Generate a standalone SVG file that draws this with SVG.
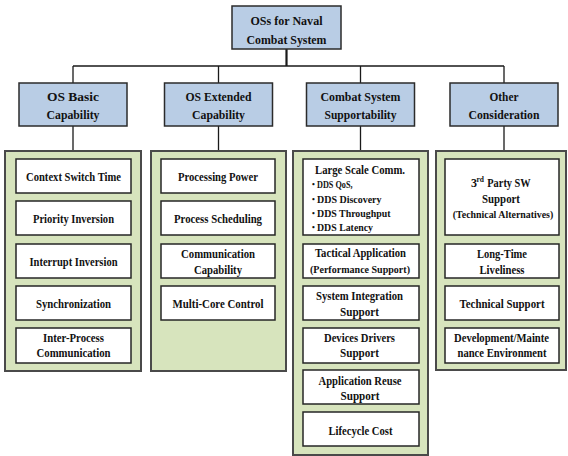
<svg xmlns="http://www.w3.org/2000/svg" width="568" height="456" viewBox="0 0 568 456">
<style>
.hd{fill:#b9cde5;stroke:#2b2b2b;stroke-width:1.5}
.ct{fill:#d7e4bd;stroke:#4a4a4a;stroke-width:2}
.it{fill:#ffffff;stroke:#262626;stroke-width:1.5}
text{font-family:"Liberation Serif","Times New Roman",serif;font-weight:bold;fill:#111111;text-anchor:middle}
.t13{font-size:13px}
.t12{font-size:12px}
.t11{font-size:11px}
.bu{font-size:8px}
.l{text-anchor:start}
.cn{fill:none;stroke:#1a1a1a;stroke-width:1.3}
</style>
<rect width="568" height="456" fill="#ffffff"/>
<g id="connectors">
<path class="cn" d="M286.5 49V66" style="stroke-width:2.2"/>
<path class="cn" d="M73 66H504M73 66V83M218.5 66V83M360.5 66V83M504 66V83"/>
<path class="cn" d="M73 126V151M218.5 126V151M360.5 126V151M504 126V151"/>
</g>
<g id="root">
<rect class="hd" x="232" y="6" width="109" height="43"/>
<text class="t13" x="286.5" y="24.5" textLength="72" lengthAdjust="spacingAndGlyphs">OSs for Naval</text>
<text class="t13" x="286.5" y="43.5" textLength="80" lengthAdjust="spacingAndGlyphs">Combat System</text>
</g>
<g id="os-basic">
<rect class="hd" x="19" y="83" width="108" height="43"/>
<text class="t13" x="73" y="101" textLength="52" lengthAdjust="spacingAndGlyphs">OS Basic</text>
<text class="t13" x="73" y="119" textLength="53" lengthAdjust="spacingAndGlyphs">Capability</text>
</g>
<g id="os-extended">
<rect class="hd" x="164.5" y="83" width="108" height="43"/>
<text class="t13" x="218.5" y="101" textLength="66" lengthAdjust="spacingAndGlyphs">OS Extended</text>
<text class="t13" x="218.5" y="119" textLength="53" lengthAdjust="spacingAndGlyphs">Capability</text>
</g>
<g id="combat-support">
<rect class="hd" x="306.5" y="83" width="108" height="43"/>
<text class="t13" x="360.5" y="101" textLength="80" lengthAdjust="spacingAndGlyphs">Combat System</text>
<text class="t13" x="360.5" y="119" textLength="72" lengthAdjust="spacingAndGlyphs">Supportability</text>
</g>
<g id="other">
<rect class="hd" x="450" y="83" width="108" height="43"/>
<text class="t13" x="504" y="101" textLength="29" lengthAdjust="spacingAndGlyphs">Other</text>
<text class="t13" x="504" y="119" textLength="71" lengthAdjust="spacingAndGlyphs">Consideration</text>
</g>
<g id="basic-list">
<rect class="ct" x="5" y="151" width="136" height="220"/>
<rect class="it" x="16" y="159" width="115" height="34"/>
<text class="t12" x="73.5" y="181" textLength="95" lengthAdjust="spacingAndGlyphs">Context Switch Time</text>
<rect class="it" x="16" y="201" width="115" height="34"/>
<text class="t12" x="73.5" y="223" textLength="81" lengthAdjust="spacingAndGlyphs">Priority Inversion</text>
<rect class="it" x="16" y="244" width="115" height="34"/>
<text class="t12" x="73.5" y="265.5" textLength="88" lengthAdjust="spacingAndGlyphs">Interrupt Inversion</text>
<rect class="it" x="16" y="286" width="115" height="34"/>
<text class="t12" x="73.5" y="308" textLength="75" lengthAdjust="spacingAndGlyphs">Synchronization</text>
<rect class="it" x="16" y="328" width="115" height="35"/>
<text class="t12" x="73.5" y="342" textLength="61" lengthAdjust="spacingAndGlyphs">Inter-Process</text>
<text class="t12" x="73.5" y="357" textLength="74" lengthAdjust="spacingAndGlyphs">Communication</text>
</g>
<g id="extended-list">
<rect class="ct" x="151" y="151" width="135" height="220"/>
<rect class="it" x="161" y="159" width="114" height="34"/>
<text class="t12" x="218" y="181" textLength="80" lengthAdjust="spacingAndGlyphs">Processing Power</text>
<rect class="it" x="161" y="201" width="114" height="34"/>
<text class="t12" x="218" y="223" textLength="88" lengthAdjust="spacingAndGlyphs">Process Scheduling</text>
<rect class="it" x="161" y="244" width="114" height="34"/>
<text class="t12" x="218" y="258" textLength="74" lengthAdjust="spacingAndGlyphs">Communication</text>
<text class="t12" x="218" y="273.5" textLength="48" lengthAdjust="spacingAndGlyphs">Capability</text>
<rect class="it" x="161" y="286" width="114" height="34"/>
<text class="t12" x="218" y="308" textLength="91" lengthAdjust="spacingAndGlyphs">Multi-Core Control</text>
</g>
<g id="support-list">
<rect class="ct" x="293" y="151" width="135" height="304"/>
<rect class="it" x="303" y="159" width="116" height="76"/>
<text class="t12" x="360" y="174" textLength="90" lengthAdjust="spacingAndGlyphs">Large Scale Comm.</text>
<text class="bu" x="313.5" y="187">•</text>
<text class="t11 l" x="317" y="188" textLength="35.5" lengthAdjust="spacingAndGlyphs">DDS QoS,</text>
<text class="bu" x="313.5" y="201.5">•</text>
<text class="t11 l" x="317" y="202.5" textLength="64.5" lengthAdjust="spacingAndGlyphs">DDS Discovery</text>
<text class="bu" x="313.5" y="216">•</text>
<text class="t11 l" x="317" y="217" textLength="73.5" lengthAdjust="spacingAndGlyphs">DDS Throughput</text>
<text class="bu" x="313.5" y="230">•</text>
<text class="t11 l" x="317" y="231" textLength="56" lengthAdjust="spacingAndGlyphs">DDS Latency</text>
<rect class="it" x="303" y="244" width="116" height="34"/>
<text class="t12" x="360.5" y="257" textLength="91" lengthAdjust="spacingAndGlyphs">Tactical Application</text>
<text class="t11" x="360" y="273" textLength="100" lengthAdjust="spacingAndGlyphs">(Performance Support)</text>
<rect class="it" x="303" y="286" width="116" height="34"/>
<text class="t12" x="359.5" y="300" textLength="87" lengthAdjust="spacingAndGlyphs">System Integration</text>
<text class="t12" x="359.5" y="316" textLength="39" lengthAdjust="spacingAndGlyphs">Support</text>
<rect class="it" x="303" y="328" width="116" height="35"/>
<text class="t12" x="359.5" y="342" textLength="71" lengthAdjust="spacingAndGlyphs">Devices Drivers</text>
<text class="t12" x="359.5" y="357" textLength="39" lengthAdjust="spacingAndGlyphs">Support</text>
<rect class="it" x="303" y="370" width="116" height="34"/>
<text class="t12" x="360" y="384.5" textLength="83" lengthAdjust="spacingAndGlyphs">Application Reuse</text>
<text class="t12" x="360" y="400" textLength="39" lengthAdjust="spacingAndGlyphs">Support</text>
<rect class="it" x="303" y="412" width="116" height="34"/>
<text class="t12" x="360.5" y="434.5" textLength="64" lengthAdjust="spacingAndGlyphs">Lifecycle Cost</text>
</g>
<g id="other-list">
<rect class="ct" x="436" y="151" width="130" height="219"/>
<rect class="it" x="445" y="159" width="114" height="76"/>
<text class="t12 l" x="471" y="187">3</text>
<text class="l" x="476.5" y="182" style="font-size:8px" textLength="7.5" lengthAdjust="spacingAndGlyphs">rd</text>
<text class="t12 l" x="487.3" y="187" textLength="43.4" lengthAdjust="spacingAndGlyphs">Party SW</text>
<text class="t12" x="501" y="203" textLength="38" lengthAdjust="spacingAndGlyphs">Support</text>
<text class="t11" x="503" y="218" textLength="100.5" lengthAdjust="spacingAndGlyphs">(Technical Alternatives)</text>
<rect class="it" x="445" y="244" width="114" height="34"/>
<text class="t12" x="502" y="258" textLength="50" lengthAdjust="spacingAndGlyphs">Long-Time</text>
<text class="t12" x="502" y="273.5" textLength="45" lengthAdjust="spacingAndGlyphs">Liveliness</text>
<rect class="it" x="445" y="286" width="114" height="34"/>
<text class="t12" x="502" y="308" textLength="85" lengthAdjust="spacingAndGlyphs">Technical Support</text>
<rect class="it" x="445" y="328" width="114" height="35"/>
<text class="t12" x="501.5" y="342" textLength="95" lengthAdjust="spacingAndGlyphs">Development/Mainte</text>
<text class="t12" x="502" y="357" textLength="89" lengthAdjust="spacingAndGlyphs">nance Environment</text>
</g>
</svg>
